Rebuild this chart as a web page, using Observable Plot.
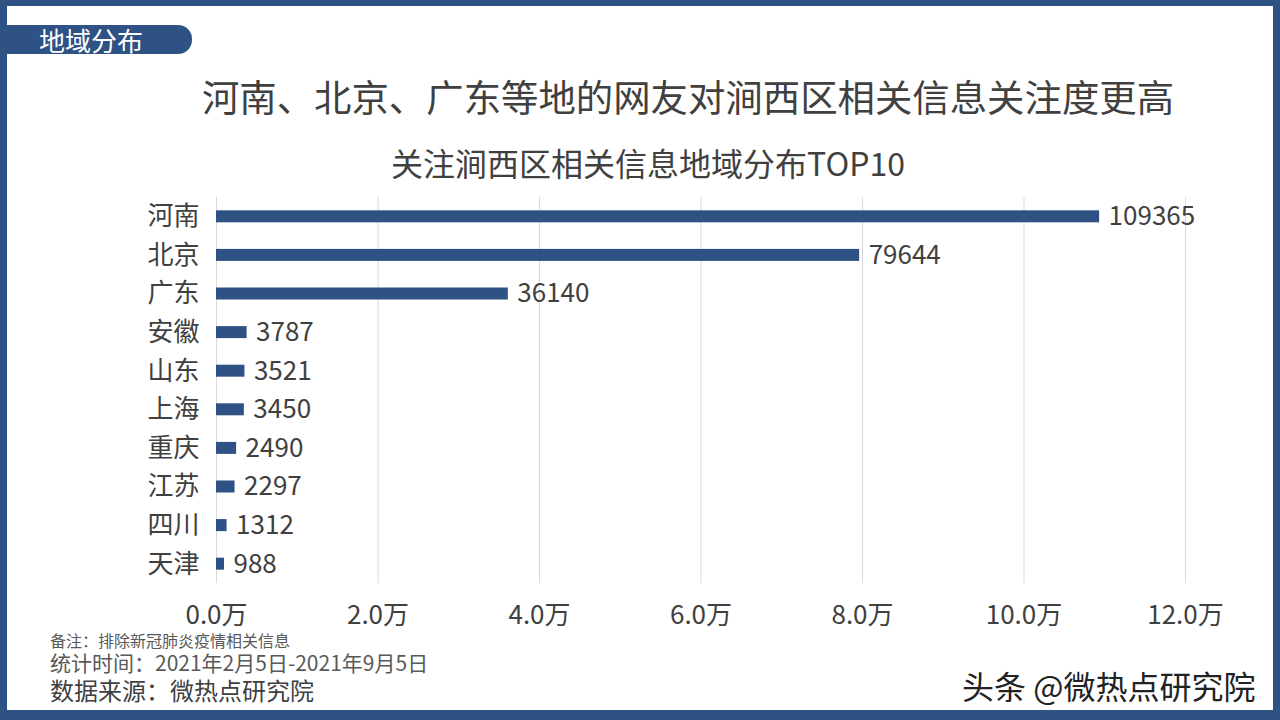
<!DOCTYPE html>
<html><head><meta charset="utf-8">
<script src="https://cdn.jsdelivr.net/npm/d3@7"></script>
<script src="https://cdn.jsdelivr.net/npm/@observablehq/plot@0.6"></script>
<style>
html,body{margin:0;padding:0;background:#fff;}
#wrap{position:relative;width:1280px;height:720px;overflow:hidden;font-family:"Noto Sans CJK SC","Noto Sans",sans-serif;color:#404040;}
#frame{position:absolute;left:0;top:0;width:1280px;height:720px;box-sizing:border-box;border-style:solid;border-color:#2E5283;border-width:6px 7px 10px 7px;pointer-events:none;}
.t{position:absolute;white-space:nowrap;}
#tab{position:absolute;left:0;top:25px;width:192px;height:29px;background:#2E5283;border-radius:0 14px 14px 0;color:#fff;font-size:26px;line-height:29px;padding-left:39px;box-sizing:border-box;}
#chart{position:absolute;left:0;top:0;}
</style></head><body>
<div id="wrap">
<div id="chart"></div>
<div id="tab">地域分布</div>
<div class="t" style="left:0;width:1376px;top:69px;text-align:center;font-size:37.4px;line-height:54px;color:#404040;">河南、北京、广东等地的网友对涧西区相关信息关注度更高</div>
<div class="t" style="left:0;width:1296px;top:139px;text-align:center;font-size:32px;line-height:46px;color:#404040;">关注涧西区相关信息地域分布TOP10</div>
<div class="t" style="left:50px;top:631px;font-size:16px;line-height:18px;color:#595959;">备注：排除新冠肺炎疫情相关信息</div>
<div class="t" style="left:50px;top:651px;font-size:21px;line-height:23px;color:#595959;">统计时间：2021年2月5日-2021年9月5日</div>
<div class="t" style="left:50px;top:676px;font-size:24px;line-height:27px;color:#404040;">数据来源：微热点研究院</div>
<div class="t" style="left:962px;top:668px;font-size:32px;line-height:34px;color:#222;">头条 @微热点研究院</div>
<div id="frame"></div>
</div>
<script>
const regions = ["河南","北京","广东","安徽","山东","上海","重庆","江苏","四川","天津"];
const counts = [109365,79644,36140,3787,3521,3450,2490,2297,1312,988];
const xTicks = [0,20000,40000,60000,80000,100000,120000];
const data = regions.map((r,i)=>({region:r,value:counts[i]}));

const chart = Plot.plot({
  width:1280, height:720,
  marginLeft:216, marginRight:95, marginTop:197, marginBottom:137,
  style:{fontFamily:'"Noto Sans CJK SC","Noto Sans",sans-serif', fontSize:"26px", color:"#404040", background:"transparent"},
  x:{domain:[0,120000], ticks:xTicks, label:null},
  y:{domain:regions, label:null, padding:0, round:false},
  marks:[
    Plot.gridX(xTicks,{stroke:"#d9d9d9", strokeOpacity:1, strokeWidth:1}),
    Plot.barX(data,{x:"value", y:"region", fill:"#2E5283", insetTop:13.3, insetBottom:13.3}),
    Plot.text(data,{x:"value", y:"region", text:d=>String(d.value), textAnchor:"start", dx:9, fontSize:26, fill:"#404040"}),
    Plot.axisX(xTicks,{tickSize:0, tickPadding:22, fontSize:26, fill:"#404040", tickFormat:d=>(d/10000).toFixed(1)+"万", anchor:"bottom"}),
    Plot.axisY({tickSize:0, tickPadding:17, fontSize:26, fill:"#404040"})
  ]
});
document.getElementById("chart").appendChild(chart);
</script>
</body></html>
